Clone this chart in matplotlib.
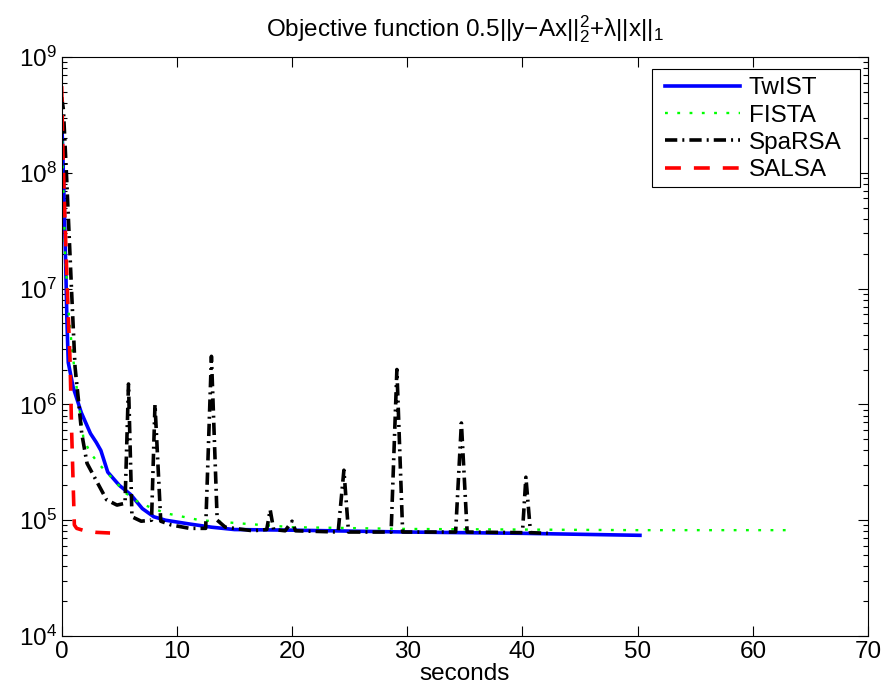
import matplotlib.pyplot as plt
import numpy as np
from matplotlib.patches import Rectangle
from matplotlib.ticker import LogLocator, NullLocator

plt.rcParams['font.family'] = ['Liberation Sans', 'DejaVu Sans']
plt.rcParams['mathtext.fontset'] = 'custom'
plt.rcParams['mathtext.rm'] = 'Liberation Sans'
plt.rcParams['mathtext.it'] = 'Liberation Sans:italic'
plt.rcParams['mathtext.default'] = 'regular'

# objective value vs. time (seconds)
twist_t = [0, 0.14, 0.25, 0.35, 0.45, 0.57, 1.0, 1.7, 2.5, 3.0, 3.4, 4.0, 5.0, 6.0,
           7.0, 8.0, 9.0, 11, 13, 15, 20, 30, 40, 50.2]
twist_obj = [3e8, 1.05e8, 4e7, 1.6e7, 5.5e6, 2.3e6, 1.4e6, 8.5e5, 5.6e5, 4.7e5, 4.0e5,
             2.6e5, 2.0e5, 1.66e5, 1.26e5, 1.07e5, 1.0e5, 9.3e4, 8.7e4, 8.3e4, 8.2e4,
             7.9e4, 7.7e4, 7.4e4]

fista_t = [0, 0.1, 0.3, 0.6, 0.9, 1.3, 1.9, 2.5, 3.3, 4.5, 5.6, 6.8, 9, 12, 16, 20,
           30, 40, 50, 63.5]
fista_obj = [5e8, 1e8, 2e7, 6.3e6, 3e6, 1.4e6, 5e5, 3.8e5, 3e5, 2.24e5, 1.7e5, 1.4e5,
             1.15e5, 1e5, 9.3e4, 8.7e4, 8.4e4, 8.3e4, 8.2e4, 8.2e4]

sparsa_t = [0, 0.15, 0.43, 0.87, 1.16, 1.45, 1.74, 2.2, 3.0, 3.9, 4.8, 5.5, 5.8, 6.1,
            6.9, 7.8, 8.1, 8.6, 9.5, 11.1, 12.5, 13.0, 13.5, 14.2, 16.6, 17.8, 18.1,
            18.4, 19.4, 20.0, 20.3, 24.0, 24.5, 24.9, 28.6, 29.1, 29.6, 34.2, 34.7,
            35.2, 40.0, 40.3, 40.7, 42.2]
sparsa_obj = [4.5e8, 3.5e8, 9e7, 9e6, 2.1e6, 1.1e6, 5.6e5, 3.1e5, 2.2e5, 1.5e5, 1.35e5,
              1.4e5, 1.5e6, 1.07e5, 9.8e4, 1.0e5, 1.0e6, 9.8e4, 9.1e4, 8.5e4, 8.5e4,
              2.6e6, 1.0e5, 8.7e4, 8.1e4, 8.3e4, 1.23e5, 8.3e4, 8.1e4, 9.8e4, 8.1e4,
              7.9e4, 2.7e5, 7.9e4, 7.9e4, 2.0e6, 7.9e4, 7.9e4, 6.9e5, 7.9e4, 7.8e4,
              2.35e5, 7.8e4, 7.7e4]

salsa_t = [0, 0.1, 0.25, 0.45, 0.6, 0.72, 0.87, 1.0, 1.1, 1.3, 2.0, 3.0, 4.2]
salsa_obj = [5.6e8, 1.6e8, 5e7, 1.26e7, 5e6, 2.5e6, 5.6e5, 2e5, 9.1e4, 8.5e4, 8.1e4,
             7.85e4, 7.75e4]

fig = plt.figure(figsize=(8.85, 6.94), dpi=100)
ax = fig.add_axes([0.0697, 0.0836, 0.9111, 0.8343])

lw = 2.6
ax.plot(twist_t, twist_obj, color='#0000ff', lw=lw, label='TwIST')
ax.plot(fista_t, fista_obj, color='#00ff00', lw=1.7, dashes=(1.2, 4.0), label='FISTA')
ax.plot(sparsa_t, sparsa_obj, color='black', lw=lw, dashes=(3.4, 1.4, 0.55, 1.4),
        label='SpaRSA')
ax.plot(salsa_t, salsa_obj, color='#ff0000', lw=lw, dashes=(4.4, 3.6), label='SALSA')

fs = 17.5
ax.set_yscale('log')
ax.set_xlim(0, 70)
ax.set_ylim(1e4, 1e9)
ax.set_xticks(np.arange(0, 71, 10))
ax.xaxis.set_minor_locator(NullLocator())
ax.yaxis.set_major_locator(LogLocator(base=10, numticks=10))
ax.yaxis.set_minor_locator(LogLocator(base=10, subs=np.arange(2, 10), numticks=20))
ax.tick_params(which='both', direction='in', top=True, right=True, labelsize=fs,
               width=0.8)
ax.tick_params(which='major', length=7)
ax.tick_params(which='minor', length=3.5)
for s in ax.spines.values():
    s.set_linewidth(0.8)

ax.set_xlabel('seconds', fontsize=fs, labelpad=0)
ax.set_title(r'Objective function 0.5$||$y$-$Ax$||_2^2$+$\lambda||$x$||_1$',
             fontsize=fs, pad=15)

# MATLAB-style legend box: wider side margins than matplotlib's frame allows
box = Rectangle((0.732, 0.7755), 0.258, 0.2038, transform=ax.transAxes,
                facecolor='white', edgecolor='black', lw=0.8, zorder=4)
ax.add_patch(box)
leg = ax.legend(loc='upper left', bbox_to_anchor=(0.748, 0.965), borderaxespad=0,
                fontsize=fs, handlelength=3.1, labelspacing=0.22, frameon=False,
                borderpad=0, handletextpad=0.35)
leg.set_zorder(5)

fig.savefig('out.png', dpi=100)
